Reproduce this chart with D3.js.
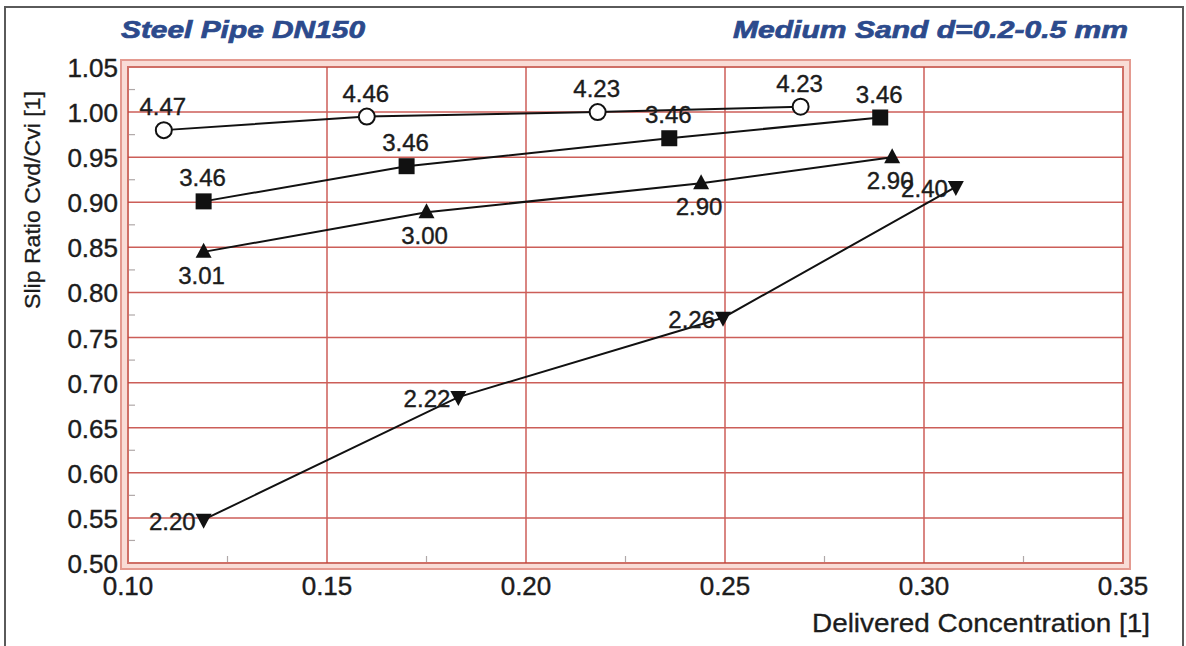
<!DOCTYPE html>
<html>
<head>
<meta charset="utf-8">
<script src="https://cdn.jsdelivr.net/npm/d3@7"></script>
<style>
  html, body { margin: 0; padding: 0; background: #ffffff; }
  svg { display: block; }
  text { font-family: "Liberation Sans", Arial, Helvetica, sans-serif; }
</style>
</head>
<body>
<svg id="chart" width="1186" height="646"></svg>
<script>
// Axis ticks
const xTicks = [0.10, 0.15, 0.20, 0.25, 0.30, 0.35];
const yTicks = [0.50, 0.55, 0.60, 0.65, 0.70, 0.75, 0.80, 0.85, 0.90, 0.95, 1.00, 1.05];
const xMinor = [0.125, 0.175, 0.225, 0.275, 0.325];
const yMinor = [0.525, 0.575, 0.625, 0.675, 0.725, 0.775, 0.825, 0.875, 0.925, 0.975, 1.025];

// Series: delivered concentration, slip ratio, and the velocity label at each point
const circleConc = [0.109, 0.160, 0.218, 0.269];
const circleSlip = [0.980, 0.995, 1.000, 1.006];
const circleVel  = ["4.47", "4.46", "4.23", "4.23"];

const squareConc = [0.119, 0.170, 0.236, 0.289];
const squareSlip = [0.901, 0.940, 0.971, 0.994];
const squareVel  = ["3.46", "3.46", "3.46", "3.46"];

const triUpConc = [0.119, 0.175, 0.244, 0.292];
const triUpSlip = [0.845, 0.889, 0.921, 0.950];
const triUpVel  = ["3.01", "3.00", "2.90", "2.90"];

const triDownConc = [0.119, 0.183, 0.2495, 0.308];
const triDownSlip = [0.548, 0.684, 0.772, 0.917];
const triDownVel  = ["2.20", "2.22", "2.26", "2.40"];

const titleLeft  = "Steel Pipe DN150";
const titleRight = "Medium Sand d=0.2-0.5 mm";
const xTitle = "Delivered Concentration [1]";
const yTitle = "Slip Ratio Cvd/Cvi [1]";

const svg = d3.select("#chart");
const x = d3.scaleLinear().domain([0.10, 0.35]).range([128, 1123]);
const y = d3.scaleLinear().domain([0.50, 1.05]).range([563, 67]);
const fmt = d3.format(".2f");
const ink = "#1c1c1c";

// outer page frame
svg.append("rect")
  .attr("x", 5).attr("y", 7).attr("width", 1178).attr("height", 660)
  .attr("fill", "none").attr("stroke", "#5a5a5a").attr("stroke-width", 2);

// titles
[[titleLeft, 121, 244], [titleRight, 733, 395]].forEach(([t, tx, w]) => {
  svg.append("text")
    .attr("x", tx).attr("y", 38)
    .attr("font-size", 24).attr("font-weight", "bold").attr("font-style", "italic")
    .attr("fill", "#2c4a8c").attr("stroke", "#2c4a8c").attr("stroke-width", 0.7)
    .attr("textLength", w).attr("lengthAdjust", "spacingAndGlyphs")
    .text(t);
});

// double frame around the plotting area
const [x0, x1] = x.range();
const [y1, y0] = y.range();
svg.append("rect")
  .attr("x", x0 - 7).attr("y", y0 - 7)
  .attr("width", x1 - x0 + 14).attr("height", y1 - y0 + 13)
  .attr("fill", "#f9dcd6").attr("stroke", "#e49a90").attr("stroke-width", 2);
svg.append("rect")
  .attr("x", x0).attr("y", y0)
  .attr("width", x1 - x0).attr("height", y1 - y0)
  .attr("fill", "#ffffff").attr("stroke", "#cf6f66").attr("stroke-width", 2);

// grid
const grid = svg.append("g").attr("stroke", "#c4423c").attr("stroke-width", 1.5).attr("opacity", 0.85);
grid.selectAll("line.h")
  .data(yTicks.slice(1, -1))
  .join("line").attr("class", "h")
  .attr("x1", x0).attr("x2", x1)
  .attr("y1", d => y(d)).attr("y2", d => y(d));
grid.selectAll("line.v")
  .data(xTicks.slice(1, -1))
  .join("line").attr("class", "v")
  .attr("x1", d => x(d)).attr("x2", d => x(d))
  .attr("y1", y0).attr("y2", y1);

// minor ticks
const minor = svg.append("g").attr("stroke", "#b0a8a8").attr("stroke-width", 1.2);
minor.selectAll("line.ym").data(yMinor).join("line").attr("class", "ym")
  .attr("x1", x0 + 1).attr("x2", x0 + 7)
  .attr("y1", d => y(d)).attr("y2", d => y(d));
minor.selectAll("line.xm").data(xMinor).join("line").attr("class", "xm")
  .attr("x1", d => x(d)).attr("x2", d => x(d))
  .attr("y1", y1 - 1).attr("y2", y1 - 7);

// tick labels
svg.append("g").selectAll("text").data(yTicks).join("text")
  .attr("x", 118).attr("y", d => y(d) + 10)
  .attr("text-anchor", "end").attr("font-size", 26)
  .attr("fill", ink).attr("stroke", ink).attr("stroke-width", 0.4)
  .text(d => fmt(d));
svg.append("g").selectAll("text").data(xTicks).join("text")
  .attr("x", d => x(d)).attr("y", 595)
  .attr("text-anchor", "middle").attr("font-size", 26)
  .attr("fill", ink).attr("stroke", ink).attr("stroke-width", 0.4)
  .text(d => fmt(d));

// axis titles
svg.append("text")
  .attr("x", 1150).attr("y", 632)
  .attr("text-anchor", "end").attr("font-size", 26)
  .attr("fill", ink).attr("stroke", ink).attr("stroke-width", 0.3)
  .attr("textLength", 338).attr("lengthAdjust", "spacingAndGlyphs")
  .text(xTitle);
svg.append("text")
  .attr("transform", "translate(40,91) rotate(-90)")
  .attr("text-anchor", "end").attr("font-size", 22)
  .attr("fill", ink).attr("stroke", ink).attr("stroke-width", 0.3)
  .attr("textLength", 218).attr("lengthAdjust", "spacingAndGlyphs")
  .text(yTitle);

// series
const line = d3.line().x(d => x(d.c)).y(d => y(d.s));
function pts(conc, slip, vel) {
  return conc.map((c, i) => ({ c: c, s: slip[i], v: vel[i] }));
}
const series = [
  { data: pts(triDownConc, triDownSlip, triDownVel), shape: "down", lab: "left" },
  { data: pts(triUpConc, triUpSlip, triUpVel), shape: "up", lab: "below" },
  { data: pts(squareConc, squareSlip, squareVel), shape: "square", lab: "above" },
  { data: pts(circleConc, circleSlip, circleVel), shape: "circle", lab: "above" }
];

const marks = svg.append("g");
series.forEach(s => {
  marks.append("path").datum(s.data)
    .attr("d", line).attr("fill", "none")
    .attr("stroke", "#111").attr("stroke-width", 2);
});

series.forEach(s => {
  const g = marks.append("g");
  const p = g.selectAll("g").data(s.data).join("g")
    .attr("transform", d => `translate(${x(d.c)},${y(d.s)})`);
  if (s.shape === "circle") {
    p.append("circle").attr("r", 8).attr("fill", "#fff").attr("stroke", "#111").attr("stroke-width", 2);
  } else if (s.shape === "square") {
    p.append("rect").attr("x", -8).attr("y", -8).attr("width", 16).attr("height", 16).attr("fill", "#111");
  } else if (s.shape === "up") {
    p.append("path").attr("d", "M0,-9L8,6L-8,6Z").attr("fill", "#111");
  } else {
    p.append("path").attr("d", "M0,9L8,-6L-8,-6Z").attr("fill", "#111");
  }
  const t = p.append("text").attr("font-size", 24)
    .attr("fill", ink).attr("stroke", ink).attr("stroke-width", 0.4)
    .text(d => d.v);
  if (s.lab === "above") {
    t.attr("text-anchor", "middle").attr("x", -1).attr("y", -15);
  } else if (s.lab === "below") {
    t.attr("text-anchor", "middle").attr("x", -2).attr("y", 32);
  } else {
    t.attr("text-anchor", "end").attr("x", -8).attr("y", 10);
  }
});
</script>
</body>
</html>
